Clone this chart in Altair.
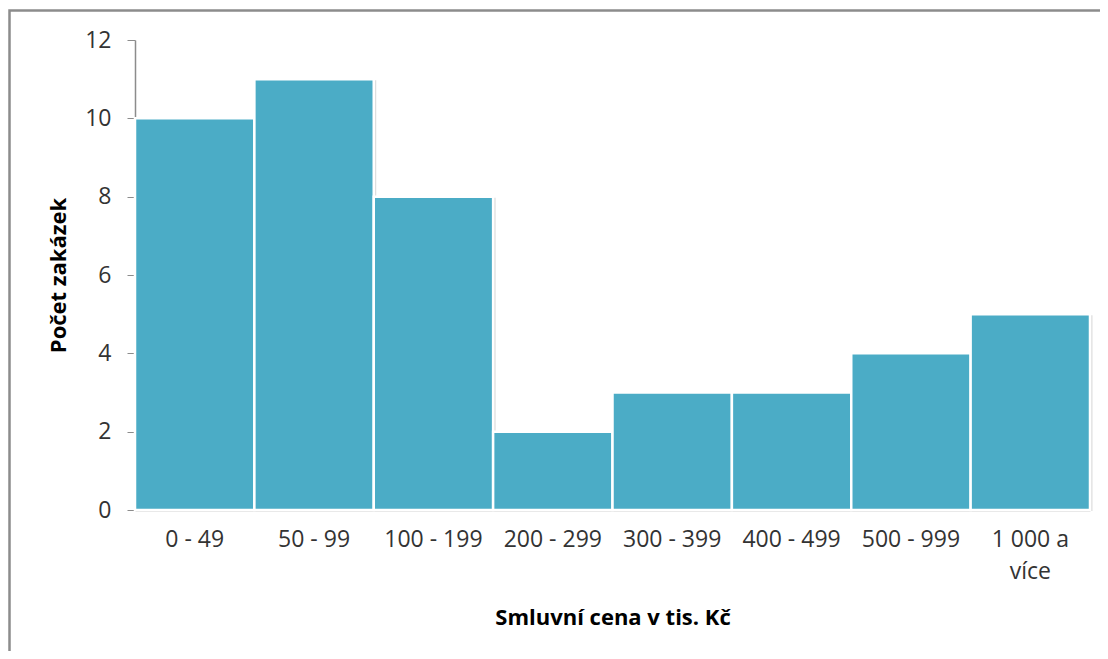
import altair as alt
import pandas as pd

categories = ["0 - 49", "50 - 99", "100 - 199", "200 - 299", "300 - 399",
              "400 - 499", "500 - 999", "1 000 a více"]
counts = [10, 11, 8, 2, 3, 3, 4, 5]

df = pd.DataFrame({"kat": categories, "pocet": counts})

FONT = "Open Sans"

x_enc = alt.X("kat:N", sort=categories,
              scale=alt.Scale(paddingInner=0, paddingOuter=0),
              axis=alt.Axis(
                  title="Smluvní cena v tis. Kč", labelAngle=0, ticks=False,
                  labelPadding=18, labelLineHeight=32,
                  labelExpr="datum.label == '1 000 a více' ? ['1 000 a', 'více'] : datum.label",
                  titlePadding=24))
y_enc = alt.Y("pocet:Q", scale=alt.Scale(domain=[0, 12]),
              axis=alt.Axis(title="Počet zakázek", values=[0, 2, 4, 6, 8, 10, 12],
                            grid=False, tickSize=8, labelPadding=16,
                            titlePadding=14))

shadow = alt.Chart(df).mark_bar(
    color="#dedede", xOffset=2.5, yOffset=1
).encode(x=x_enc, y=y_enc)

bars = alt.Chart(df).mark_bar(
    color="#4BACC6", stroke="white", strokeWidth=2.5
).encode(x=x_enc, y=y_enc)

frame = alt.Chart(pd.DataFrame({"f": [0]})).mark_rect(
    fill=None, stroke="#8c8c8c", strokeWidth=2.5
).encode(
    x=alt.value(-125.5), x2=alt.value(1300),
    y=alt.value(-29.5), y2=alt.value(900),
)

chart = alt.layer(shadow, bars, frame).properties(
    width=955, height=470,
    autosize=alt.AutoSizeParams(type="none"),
    padding={"left": 127, "top": 32, "right": 10, "bottom": 141},
).configure_view(stroke=None).configure_axis(
    labelFont=FONT, labelFontSize=23, labelColor="#333333",
    titleFont=FONT, titleFontSize=22, titleFontWeight="bold", titleColor="#000000",
    domainColor="#8c8c8c", tickColor="#8c8c8c", domainWidth=1.5,
)

chart.save("out.html", embed_options={"renderer": "svg", "actions": False})
